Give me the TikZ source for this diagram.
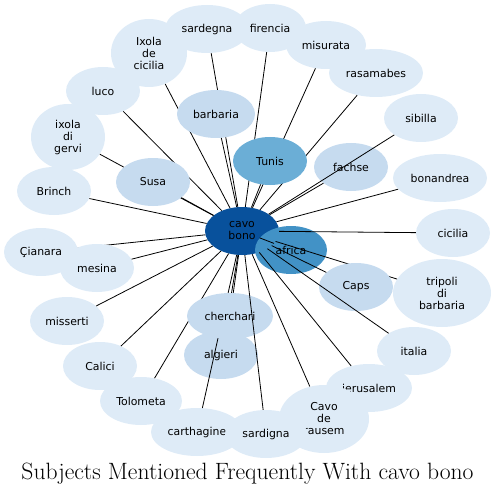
\documentclass[tikz,border=0pt]{standalone}
\usepackage{fontspec}
\newfontfamily\bubfont{DejaVu Sans}
\usetikzlibrary{shapes.geometric}
\definecolor{blA}{HTML}{DEEBF7}
\definecolor{blB}{HTML}{C6DBEF}
\definecolor{blD}{HTML}{6BAED6}
\definecolor{blE}{HTML}{4292C6}
\definecolor{blG}{HTML}{08519C}
\tikzset{
  bub/.style={ellipse, inner sep=0pt, draw=none, align=center, text=black,
    font=\bubfont\fontsize{10.9}{12}\selectfont},
  lt/.style={bub, fill=blA},
  md/.style={bub, fill=blB},
  link/.style={draw=black, line width=0.8pt},
  ttl/.style={font=\fontsize{23.6}{28}\selectfont, anchor=base, inner sep=0pt},
}
\begin{document}
\begin{tikzpicture}[x=1pt,y=-1pt]
\useasboundingbox (0,0) rectangle (496,495);
\node[bub, fill=blG, minimum width=74pt, minimum height=48pt] (cb) at (242,231) {cavo\\bono};

\node[lt, minimum width=84pt, minimum height=48pt] (sardegna) at (207,29) {sardegna};
\draw[link] (cb) -- (sardegna);
\node[lt, minimum width=72pt, minimum height=48pt] (firencia) at (270,28) {firencia};
\draw[link] (cb) -- (firencia);
\node[lt, minimum width=76pt, minimum height=68pt] (ixcic) at (149,53) {Ixola\\de\\cicilia};
\draw[link] (cb) -- (ixcic);
\node[lt, minimum width=80pt, minimum height=48pt] (misurata) at (326,45) {misurata};
\draw[link] (cb) -- (misurata);
\node[lt, minimum width=74pt, minimum height=48pt] (luco) at (103,91) {luco};
\draw[link] (cb) -- (luco);
\node[lt, minimum width=94pt, minimum height=48pt] (rasamabes) at (376,73) {rasamabes};
\draw[link] (cb) -- (rasamabes);
\node[lt, minimum width=74pt, minimum height=66pt] (ixgervi) at (68,137) {ixola\\di\\gervi};
\draw[link] (cb) -- (ixgervi);
\node[lt, minimum width=74pt, minimum height=48pt] (brinch) at (54,191) {Brinch};
\draw[link] (cb) -- (brinch);
\node[lt, minimum width=74pt, minimum height=48pt] (cianara) at (41,252) {Çianara};
\draw[link] (cb) -- (cianara);
\node[lt, minimum width=74pt, minimum height=48pt] (mesina) at (97,268) {mesina};
\draw[link] (cb) -- (mesina);
\node[lt, minimum width=74pt, minimum height=48pt] (misserti) at (67,321) {misserti};
\draw[link] (cb) -- (misserti);
\node[lt, minimum width=74pt, minimum height=48pt] (calici) at (100,366) {Calici};
\draw[link] (cb) -- (calici);
\node[lt, minimum width=82pt, minimum height=48pt] (tolometa) at (141,401) {Tolometa};
\draw[link] (cb) -- (tolometa);
\node[md, minimum width=78pt, minimum height=48pt] (barbaria) at (216,114) {barbaria};
\draw[link] (cb) -- (barbaria);
\node[bub, fill=blD, minimum width=74pt, minimum height=48pt] (tunis) at (270,161) {Tunis};
\draw[link] (cb) -- (tunis);
\node[md, minimum width=74pt, minimum height=48pt] (fachse) at (351,167) {fachse};
\draw[link] (cb) -- (fachse);
\node[lt, minimum width=74pt, minimum height=48pt] (sibilla) at (421,118) {sibilla};
\draw[link] (cb) -- (sibilla);
\node[lt, minimum width=94pt, minimum height=48pt] (bonandrea) at (440,178) {bonandrea};
\draw[link] (cb) -- (bonandrea);
\node[bub, fill=blE, minimum width=72pt, minimum height=48pt] (africa) at (291,250) {africa};
\draw[link] (cb) -- (africa);
\node[lt, minimum width=74pt, minimum height=48pt] (cicilia) at (453,233) {cicilia};
\draw[link] (cb) -- (cicilia);
\node[lt, minimum width=98pt, minimum height=68pt] (tripoli) at (442,293) {tripoli\\di\\barbaria};
\draw[link] (cb) -- (tripoli);
\node[md, minimum width=74pt, minimum height=48pt] (caps) at (356,287) {Caps};
\draw[link] (cb) -- (caps);
\node[lt, minimum width=74pt, minimum height=48pt] (italia) at (414,351) {italia};
\draw[link] (cb) -- (italia);
\node[md, minimum width=74pt, minimum height=48pt] (susa) at (153,182) {Susa};
\draw[link] (cb) -- (susa);
\node[md, minimum width=74pt, minimum height=48pt] (algieri) at (221,355) {algieri};
\draw[link] (cb) -- (algieri);
\node[lt, minimum width=92pt, minimum height=48pt] (carthagine) at (197,432) {carthagine};
\draw[link] (cb) -- (carthagine);
\node[md, minimum width=86pt, minimum height=46pt] (cherchari) at (230,316) {cherchari};
\draw[link] (cb) -- (cherchari);
\node[lt, minimum width=86pt, minimum height=48pt] (ierusalem) at (369,388) {ierusalem};
\draw[link] (cb) -- (ierusalem);
\node[lt, minimum width=90pt, minimum height=68pt] (rausem) at (324,419) {Cavo\\de\\rausem};
\draw[link] (cb) -- (rausem);
\node[lt, minimum width=82pt, minimum height=48pt] (sardigna) at (266,434) {sardigna};
\draw[link] (cb) -- (sardigna);

\node[ttl] (title) at (247.5,479) {Subjects Mentioned Frequently With cavo bono};
\end{tikzpicture}
\end{document}
